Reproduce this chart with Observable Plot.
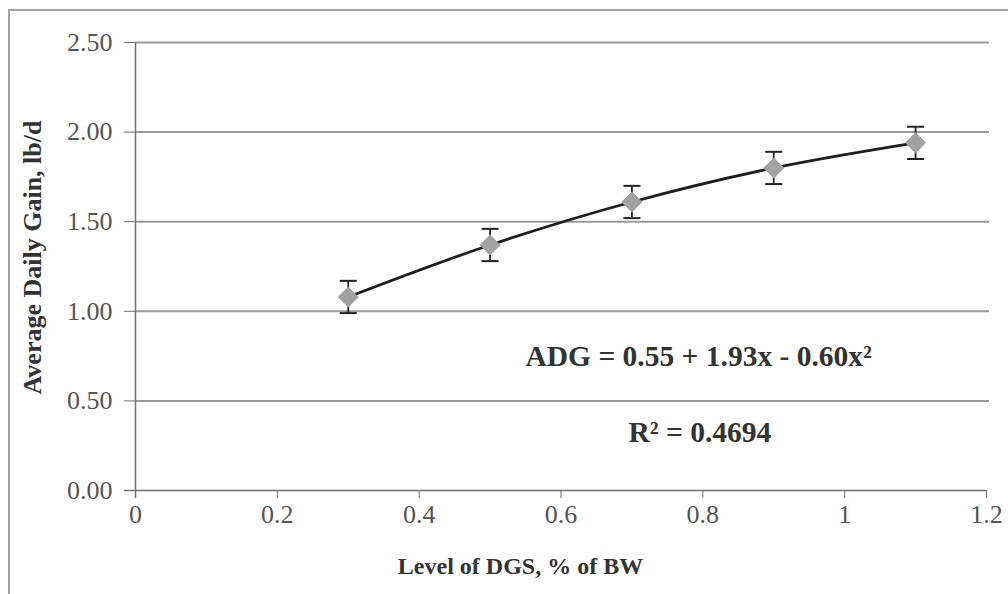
<!DOCTYPE html>
<html>
<head>
<meta charset="utf-8">
<script src="https://cdn.jsdelivr.net/npm/d3@7"></script>
<script src="https://cdn.jsdelivr.net/npm/@observablehq/plot@0.6"></script>
<style>
  html, body { margin: 0; padding: 0; background: #fff; overflow: hidden; }
  #wrap { position: relative; width: 1008px; height: 594px; }
  #border { position: absolute; left: 8px; top: 9px; width: 1100px; height: 700px;
            border: 2px solid #a3a3a3; pointer-events: none; z-index: 2; }
  svg text { font-family: "Liberation Serif", "DejaVu Serif", serif; }
  [aria-label="y-axis tick label"] text, [aria-label="x-axis tick label"] text { fill: #555; }
</style>
</head>
<body>
<div id="wrap"><div id="border"></div></div>
<script>
// Data
const dgsLevel = [0.3, 0.5, 0.7, 0.9, 1.1];
const adgValues = [1.08, 1.37, 1.61, 1.80, 1.94];
const adgError = [0.09, 0.09, 0.09, 0.09, 0.09];
const yTicks = [0, 0.5, 1.0, 1.5, 2.0, 2.5];
const yTickLabels = ["0.00", "0.50", "1.00", "1.50", "2.00", "2.50"];
const xTicks = [0, 0.2, 0.4, 0.6, 0.8, 1.0, 1.2];
const xTickLabels = ["0", "0.2", "0.4", "0.6", "0.8", "1", "1.2"];
const equationText = "ADG = 0.55 + 1.93x - 0.60x²";
const r2Text = "R² = 0.4694";
const xTitle = "Level of DGS, % of BW";
const yTitle = "Average Daily Gain, lb/d";

const rows = dgsLevel.map((x, i) => ({
  x, y: adgValues[i], lo: adgValues[i] - adgError[i], hi: adgValues[i] + adgError[i]
}));

const capSymbol = {
  draw(context, size) {
    const w = Math.sqrt(size);
    context.moveTo(-w, 0);
    context.lineTo(w, 0);
  }
};

const chart = Plot.plot({
  width: 1008,
  height: 594,
  marginLeft: 135,
  marginRight: 19,
  marginTop: 42,
  marginBottom: 104,
  x: { domain: [0, 1.2], range: [135, 986] },
  y: { domain: [0, 2.5] },
  marks: [
    Plot.gridY(yTicks.slice(1), { stroke: "#9a9a9a", strokeOpacity: 1, strokeWidth: 2 }),
    Plot.ruleY([0], { stroke: "#6f6f6f", strokeWidth: 1.5, insetLeft: -11, insetRight: 3 }),
    Plot.ruleX([0], { stroke: "#6f6f6f", strokeWidth: 1.5, insetBottom: -8 }),
    Plot.axisY({
      ticks: yTicks,
      tickFormat: (d) => yTickLabels[yTicks.indexOf(d)],
      tickSize: 11, tickPadding: 12, fontSize: 26, label: null, stroke: "#6f6f6f"
    }),
    Plot.axisX({
      ticks: xTicks,
      tickFormat: (d) => xTickLabels[xTicks.indexOf(d)],
      tickSize: 8, tickPadding: 6, fontSize: 26, label: null, stroke: "#6f6f6f"
    }),
    Plot.line(rows, { x: "x", y: "y", curve: "catmull-rom", stroke: "#1e1e1e", strokeWidth: 2.8 }),
    Plot.ruleX(rows, { x: "x", y1: "lo", y2: "hi", stroke: "#222", strokeWidth: 1.8 }),
    Plot.dot(rows, { x: "x", y: "lo", symbol: capSymbol, r: 4.8, stroke: "#222", strokeWidth: 2, fill: "none" }),
    Plot.dot(rows, { x: "x", y: "hi", symbol: capSymbol, r: 4.8, stroke: "#222", strokeWidth: 2, fill: "none" }),
    Plot.dot(rows, { x: "x", y: "y", symbol: "diamond2", r: 9.5, fill: "#a2a2a2", stroke: "none" }),
    Plot.text([equationText], { text: (d) => d, frameAnchor: "top-left", textAnchor: "start", lineAnchor: "middle",
      dx: 390, dy: 314, fontSize: 29.5, fontWeight: "bold", fill: "#333" }),
    Plot.text([r2Text], { text: (d) => d, frameAnchor: "top-left", textAnchor: "start", lineAnchor: "middle",
      dx: 493, dy: 390, fontSize: 29.5, fontWeight: "bold", fill: "#333" }),
    Plot.text([xTitle], { text: (d) => d, frameAnchor: "bottom", textAnchor: "middle", lineAnchor: "middle",
      dx: -42, dy: 76, fontSize: 24, fontWeight: "bold", fill: "#333" }),
    Plot.text([yTitle], { text: (d) => d, frameAnchor: "left", textAnchor: "middle", lineAnchor: "middle",
      rotate: -90, dx: -103, dy: -9, fontSize: 26, fontWeight: "bold", fill: "#333" })
  ]
});
document.getElementById("wrap").appendChild(chart);
</script>
</body>
</html>
